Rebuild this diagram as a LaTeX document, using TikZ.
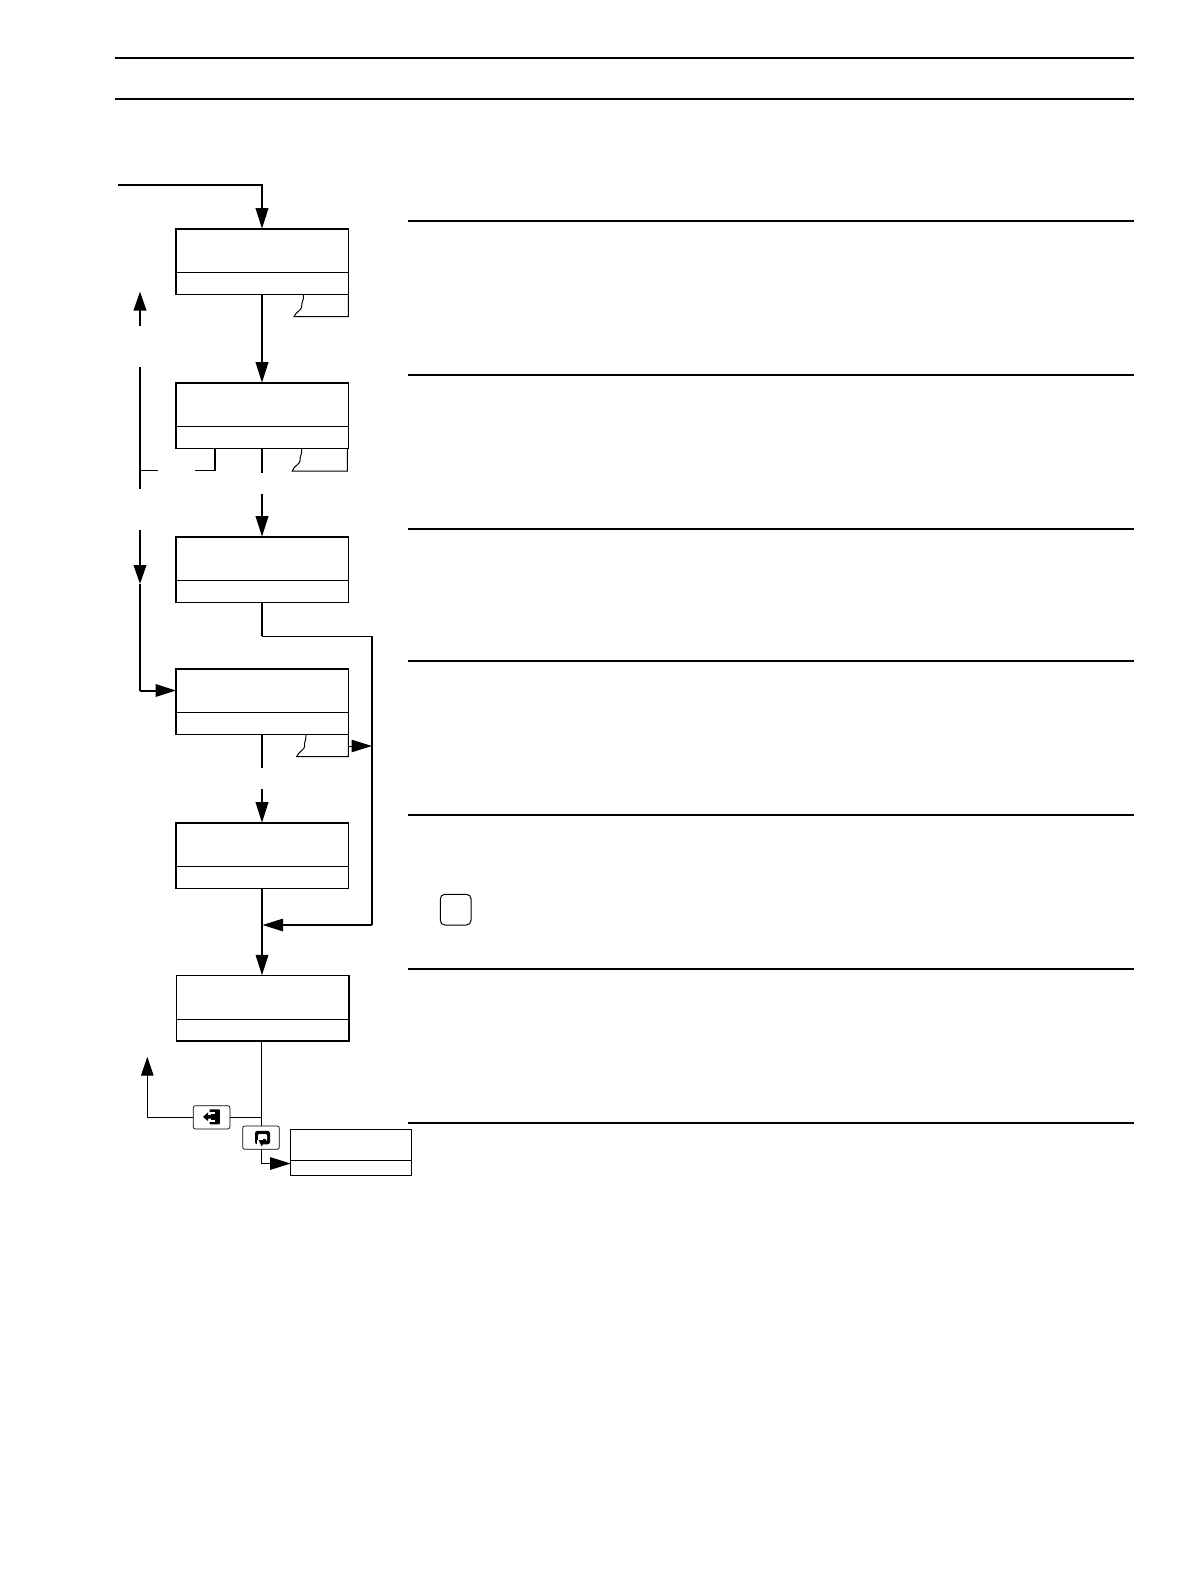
\documentclass[tikz,border=0pt]{standalone}
\usetikzlibrary{arrows.meta,calc}
\tikzset{
  flowbox/.style={draw,line width=1.6pt,anchor=north west,inner sep=0pt,outer sep=0pt,minimum width=172.3pt,minimum height=65.6pt},
  smallbox/.style={draw,line width=1.2pt,anchor=north west,inner sep=0pt,outer sep=0pt,minimum width=121pt,minimum height=46pt},
  keybox/.style={draw,line width=0.7pt,rounded corners=2pt,anchor=north west,inner sep=0pt,outer sep=0pt,minimum width=36.6pt,minimum height=23.2pt},
  notebox/.style={draw,line width=1pt,rounded corners=4.5pt,anchor=north west,inner sep=0pt,outer sep=0pt,minimum width=30.7pt,minimum height=30.7pt},
  divider/.style={line width=1.1pt},
  rulerline/.style={line width=1.7pt},
  heavy/.style={line width=2pt},
  thinner/.style={line width=1.2pt},
  tail/.style={line width=1pt},
  tip/.style={-{Triangle[length=20.5pt,width=12.5pt]}},
  tipshort/.style={-{Triangle[length=19pt,width=12.5pt]}},
}
\begin{document}
\begin{tikzpicture}[x=1pt,y=-1pt]
\useasboundingbox (0,0) rectangle (1190,1588);
% header rules
\draw[rulerline] (114.5,57.7) -- (1134,57.7);
\draw[rulerline] (114.5,99) -- (1134,99);
% section rules
\foreach \yy in {220.7,374.7,528.7,661,815,969,1122.7}
  \draw[rulerline] (408,\yy) -- (1134,\yy);
% boxes
\node[flowbox] (b1) at (176,228.7) {};
\node[flowbox] (b2) at (176,382.7) {};
\node[flowbox] (b3) at (176,536.7) {};
\node[flowbox] (b4) at (176,668.7) {};
\node[flowbox] (b5) at (176,822.7) {};
\node[flowbox] (b6) at (176.4,975.3) {};
\node[smallbox] (b7) at (290.7,1129.3) {};
\node[keybox] (k1) at (193.3,1105.7) {};
\node[keybox] (k2) at (242.7,1126) {};
\node[notebox] (n1) at (440.3,894.3) {};
% dividers
\foreach \b/\yy in {b1/272.3,b2/426.3,b3/580.3,b4/712.3,b5/866.3,b6/1019.4}
  \draw[divider] (\b.west |- 0,\yy) -- (\b.east |- 0,\yy);
\draw[divider] (b7.west |- 0,1160.3) -- (b7.east |- 0,1160.3);
% named free ends
\coordinate (entry) at (118,185);
\coordinate (c1) at (262,185);
\coordinate (upA) at (140,325.7);
\coordinate (upB) at (140,291.5);
\coordinate (lA) at (140,367);
\coordinate (lB) at (140,489);
\coordinate (lC) at (140,530);
\coordinate (lD) at (140,584);
\coordinate (lE) at (140,690.5);
\coordinate (br1) at (140.7,470.3);
\coordinate (br2) at (158,470.3);
\coordinate (br3) at (195,470.3);
\coordinate (br4) at (215,470.3);
\coordinate (busTop) at (372,636.3);
\coordinate (busBot) at (372,925);
\coordinate (busIn) at (372,746);
% main flow
\draw[heavy,tip] (entry) -- (c1) -- (c1 |- b1.north);
\draw[heavy,tip] (c1 |- b1.south) -- (c1 |- b2.north);
\draw[heavy] (c1 |- b2.south) -- (262,472.7);
\draw[heavy,tip] (262,494) -- (c1 |- b3.north);
\draw[heavy] (c1 |- b3.south) -- (c1 |- busTop);
\draw[thinner] (c1 |- busTop) -- (busTop);
\draw[heavy] (busTop) -- (busBot);
\draw[thinner,tip] (busBot) -- (262.5,925);
\draw[heavy] (c1 |- b4.south) -- (262,767.7);
\draw[heavy,tip] (262,789) -- (c1 |- b5.north);
\draw[heavy,tip] (c1 |- b5.south) -- (c1 |- b6.north);
% left loop
\draw[heavy,tipshort] (upA) -- (upB);
\draw[heavy] (lA) -- (lB);
\draw[heavy,tipshort] (lC) -- (lD);
\draw[heavy] (lD) -- (lE);
\draw[heavy,tip] (lE) -- (b4.west |- lE);
\draw[tail] (br1) -- (br2);
\draw[thinner] (br3) -- (br4) -- (br4 |- b2.south);
% tails
\draw[tail] (303.3,295) .. controls (304.5,299) and (301,303) .. (301.7,306.7) .. controls (302,310) and (295.5,312) .. (294,316.7) -- (348.3,316.7) -- (348.3,295);
\draw[tail] (301.7,449) .. controls (302.5,453) and (299.5,457) .. (300,460.5) .. controls (300.5,464) and (293.5,466) .. (292.3,471) -- (347.3,471) -- (347.3,449);
\draw[tail] (306,735) .. controls (306.8,739) and (303.5,743) .. (304.7,746) .. controls (305,749.5) and (298,752) .. (296.7,756.7) -- (348.3,756.7) -- (348.3,735);
\draw[tail,tip] (348.3,746) -- (busIn);
% bottom
\draw[thinner] (261.3,1041) -- (261.3,1126);
\draw[thinner] (261.3,1117.3) -- (k1.east |- 0,1117.3);
\draw[thinner,tipshort] (k1.west |- 0,1117.3) -- (147.3,1117.3) -- (147.3,1056.7);
\draw[thinner,tip] (261.3,1149.2) -- (261.3,1163.5) -- (b7.west |- 0,1163.5);
% key glyphs
\fill[black,rounded corners=0.8pt] (209.5,1109.3) rectangle (219.8,1124.3);
\fill[white] (209,1112) rectangle (214.6,1114.2);
\fill[white] (209,1119.8) rectangle (214.6,1121.8);
\fill[white] (209,1114) rectangle (211,1120);
\fill[black] (203,1116.8) -- (208.2,1112.3) -- (208.2,1115.2) -- (214,1115.2) -- (214,1118.6) -- (208.2,1118.6) -- (208.2,1121.3) -- cycle;
\fill[black,rounded corners=2.5pt] (255,1130.8) rectangle (270,1144.4);
\fill[white,rounded corners=1pt] (258,1134) rectangle (267,1140.8);
\fill[white] (257,1140) rectangle (261,1146);
\fill[black] (262.5,1139) rectangle (265.5,1141.5);
\fill[black] (258.5,1140) -- (265,1140) -- (261.7,1146.5) -- cycle;
\end{tikzpicture}
\end{document}
